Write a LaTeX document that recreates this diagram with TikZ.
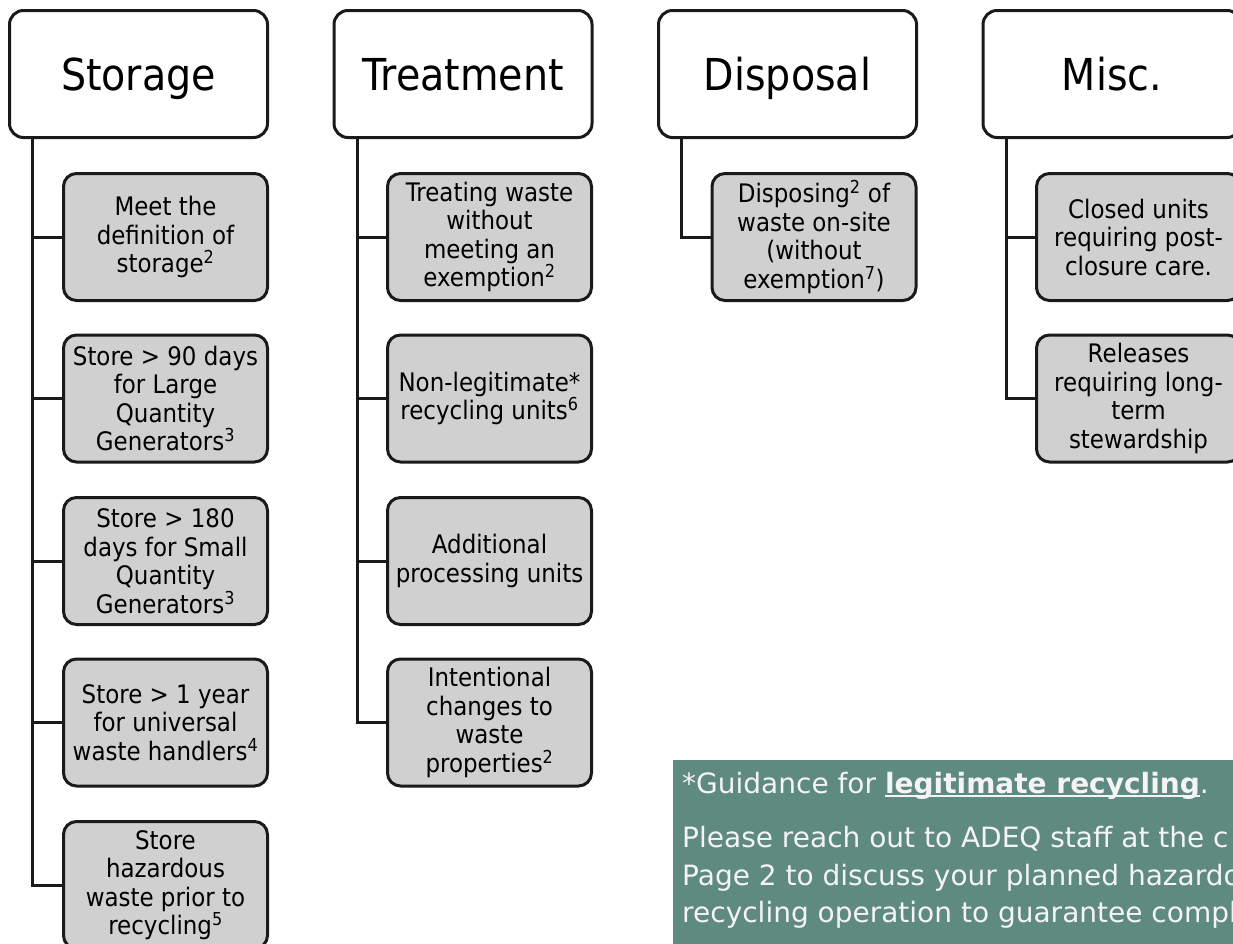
\documentclass[tikz,border=0pt]{standalone}
\usepackage{fontspec}
\setmainfont{DejaVu Sans}
\newfontfamily\headfont{DejaVu Sans}[FakeStretch=0.9]
\usepackage{xcolor}
\usepackage{tikz}
\usetikzlibrary{positioning}
\definecolor{ink}{HTML}{1A1A1A}
\definecolor{itemfill}{HTML}{D0D0D0}
\definecolor{notebg}{HTML}{5F8A7F}
\definecolor{notetext}{HTML}{F4F4F4}
\newcommand{\linkul}[1]{\setbox0\hbox{#1}\rlap{\rule[-4pt]{\wd0}{2pt}}\box0}
\tikzset{
  head/.style={draw=ink, fill=white, line width=3pt, rounded corners=14pt, minimum width=258pt, minimum height=127pt, inner sep=0pt, text height=33pt, text depth=0pt, font=\headfont\fontsize{44}{50}\selectfont},
  item/.style={draw=ink, fill=itemfill, line width=3pt, rounded corners=13pt, minimum width=204pt, minimum height=127pt, inner sep=0pt, align=center, font=\headfont\fontsize{25.5}{28.5}\selectfont},
  link/.style={draw=ink, line width=3pt},
  note/.style={text=notetext, anchor=base west, inner sep=0pt, font=\fontsize{28}{37}\selectfont},
}

\begin{document}
\begin{tikzpicture}[x=1pt,y=-1pt]
\useasboundingbox (0,0) rectangle (1233,943);
\clip (0,0) rectangle (1233,943);

% column heads
\node[head] (storage) at (138.5,74) {Storage};
\node[head] (treatment) at (463,74) {Treatment};
\node[head] (disposal) at (787.5,74) {Disposal};
\node[head] (misc) at (1112,74) {Misc.};

% storage items
\node[item] (s1) at (165.5,237) {Meet the\\definition of\\storage\textsuperscript{2}};
\node[item] (s2) at (165.5,398.5) {Store > 90 days\\for Large\\Quantity\\Generators\textsuperscript{3}};
\node[item] (s3) at (165.5,561) {Store > 180\\days for Small\\Quantity\\Generators\textsuperscript{3}};
\node[item] (s4) at (165.5,722.5) {Store > 1 year\\for universal\\waste handlers\textsuperscript{4}};
\node[item] (s5) at (165.5,885) {Store\\hazardous\\waste prior to\\recycling\textsuperscript{5}};

% treatment items
\node[item] (t1) at (489.5,237) {Treating waste\\without\\meeting an\\exemption\textsuperscript{2}};
\node[item] (t2) at (489.5,398.5) {Non-legitimate*\\recycling units\textsuperscript{6}};
\node[item] (t3) at (489.5,561) {Additional\\processing units};
\node[item] (t4) at (489.5,722.5) {Intentional\\changes to\\waste\\properties\textsuperscript{2}};

% disposal and misc items
\node[item] (d1) at (814,237) {Disposing\textsuperscript{2} of\\waste on-site\\(without\\exemption\textsuperscript{7})};
\node[item] (m1) at (1138.5,237) {Closed units\\requiring post-\\closure care.};
\node[item] (m2) at (1138.5,398.5) {Releases\\requiring long-\\term\\stewardship};

% trunks
\foreach \c in {s1,s2,s3,s4,s5}
  \draw[link] ([xshift=24.5pt]storage.south west) |- (\c.west);
\foreach \c in {t1,t2,t3,t4}
  \draw[link] ([xshift=24.5pt]treatment.south west) |- (\c.west);
\draw[link] ([xshift=24.5pt]disposal.south west) |- (d1.west);
\foreach \c in {m1,m2}
  \draw[link] ([xshift=24.5pt]misc.south west) |- (\c.west);

% guidance note
\fill[notebg] (673,760) rectangle (1240,950);
\node[note] (g1) at (682,793) {*Guidance for \linkul{\textbf{legitimate recycling}}.};
\node[note] (g2) at (682,847) {Please reach out to ADEQ staff at the c};
\node[note] (g3) at (682,885) {Page 2 to discuss your planned hazardo};
\node[note] (g4) at (682,922) {recycling operation to guarantee compl};
\end{tikzpicture}
\end{document}
